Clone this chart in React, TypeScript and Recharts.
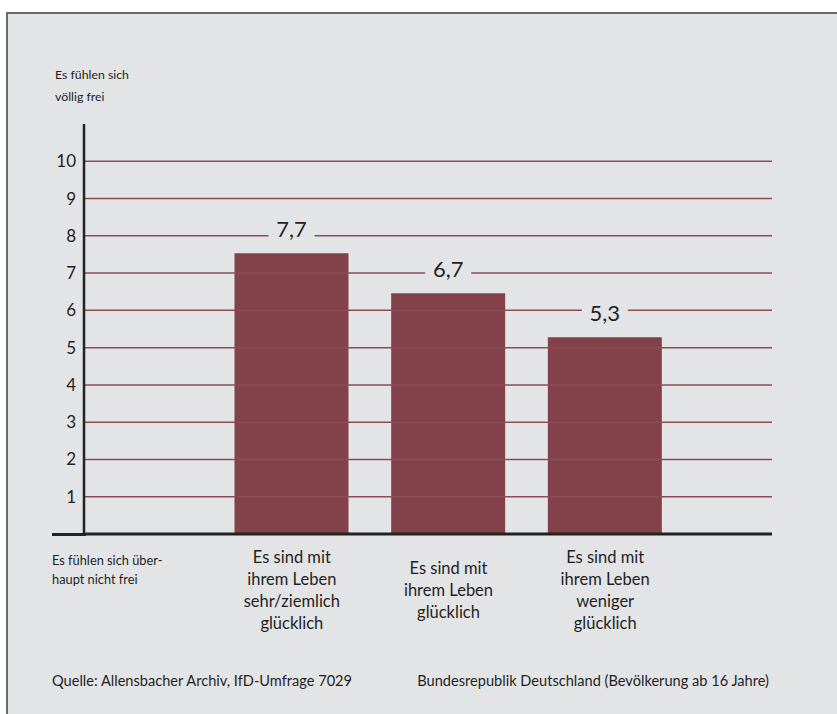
import React from "react";
import { BarChart, Bar, XAxis, YAxis, ReferenceLine, LabelList } from "recharts";

// categories (one line per array item) and values
const categories = [
  ["Es sind mit", "ihrem Leben", "sehr/ziemlich", "glücklich"],
  ["Es sind mit", "ihrem Leben", "glücklich"],
  ["Es sind mit", "ihrem Leben", "weniger", "glücklich"],
];
// bar heights as drawn in the picture
const barValues = [7.53, 6.46, 5.28];
// printed value labels
const valueLabels = ["7,7", "6,7", "5,3"];
const yTicks = [1, 2, 3, 4, 5, 6, 7, 8, 9, 10];

const BG = "#e3e4e6";
const BAR = "#834149";
const GRID = "#8c4c55";
const INK = "#1f1f1f";
const FONT = "Lato, 'Open Sans', sans-serif";

const data = categories.map((lines, i) => ({
  name: lines.join(" "),
  lines,
  value: barValues[i],
}));

function CategoryTick(props: any) {
  const { x, y, index } = props;
  const lines: string[] = categories[index] || [];
  const mid = Number(y) + 47.5;
  return (
    <g>
      {lines.map((l, k) => (
        <text
          key={k}
          x={x}
          y={mid + (k - (lines.length - 1) / 2) * 22}
          textAnchor="middle"
          dominantBaseline="central"
          fontSize={16.5}
          fontFamily={FONT}
          fill={INK}
        >
          {l}
        </text>
      ))}
    </g>
  );
}

function ValueLabel(props: any) {
  const x = Number(props.x);
  const y = Number(props.y);
  const w = Number(props.width);
  const cx = x + w / 2;
  const base = y - 16;
  return (
    <g>
      <rect x={cx - 23} y={base - 21} width={46} height={27} fill={BG} />
      <text x={cx} y={base} textAnchor="middle" fontSize={22} fontFamily={FONT} fill={INK}>
        {valueLabels[props.index]}
      </text>
    </g>
  );
}

const textStyle: React.CSSProperties = {
  position: "absolute",
  fontFamily: FONT,
  color: INK,
  whiteSpace: "nowrap",
};

export default function App() {
  return (
    <div style={{ position: "absolute", left: 0, top: 0, width: 837, height: 714, background: "#fff", overflow: "hidden" }}>
      <div
        style={{
          position: "absolute",
          left: 6,
          top: 12,
          width: 840,
          height: 710,
          background: BG,
          borderTop: "2px solid #6a6a6a",
          borderLeft: "2px solid #6a6a6a",
        }}
      />
      <div style={{ ...textStyle, left: 55, top: 64, fontSize: 12.3, lineHeight: "22px" }}>
        Es fühlen sich
        <br />
        völlig frei
      </div>
      <div style={{ ...textStyle, left: 52, top: 551, fontSize: 12.8, lineHeight: "19px" }}>
        Es fühlen sich über-
        <br />
        haupt nicht frei
      </div>
      <div style={{ ...textStyle, left: 52, top: 671, fontSize: 14.6, lineHeight: "20px" }}>
        Quelle: Allensbacher Archiv, IfD-Umfrage 7029
      </div>
      <div style={{ ...textStyle, right: 837 - 769, top: 671, fontSize: 14.6, lineHeight: "20px" }}>
        Bundesrepublik Deutschland (Bevölkerung ab 16 Jahre)
      </div>
      <div style={{ position: "absolute", left: 52, top: 532.5, width: 34, height: 3, background: "#222" }} />
      <div style={{ position: "absolute", left: 0, top: 0 }}>
        <BarChart width={837} height={714} data={data} margin={{ top: 124, right: 65, bottom: 0, left: 0 }}>
          <XAxis
            dataKey="name"
            height={180}
            padding={{ left: 129.5, right: 88.5 }}
            axisLine={{ stroke: "#222", strokeWidth: 3 }}
            tickLine={false}
            interval={0}
            tick={<CategoryTick />}
          />
          <YAxis
            width={84}
            domain={[0, 11]}
            ticks={yTicks}
            interval={0}
            axisLine={{ stroke: "#222", strokeWidth: 2.5 }}
            tickLine={false}
            tick={{ fontSize: 17, fontFamily: FONT, fill: INK }}
          />
          {yTicks.map((t) => (
            <ReferenceLine key={t} y={t} stroke={GRID} strokeWidth={1.5} />
          ))}
          <Bar dataKey="value" fill={BAR} barSize={114} isAnimationActive={false}>
            <LabelList dataKey="value" content={<ValueLabel />} />
          </Bar>
        </BarChart>
      </div>
    </div>
  );
}
